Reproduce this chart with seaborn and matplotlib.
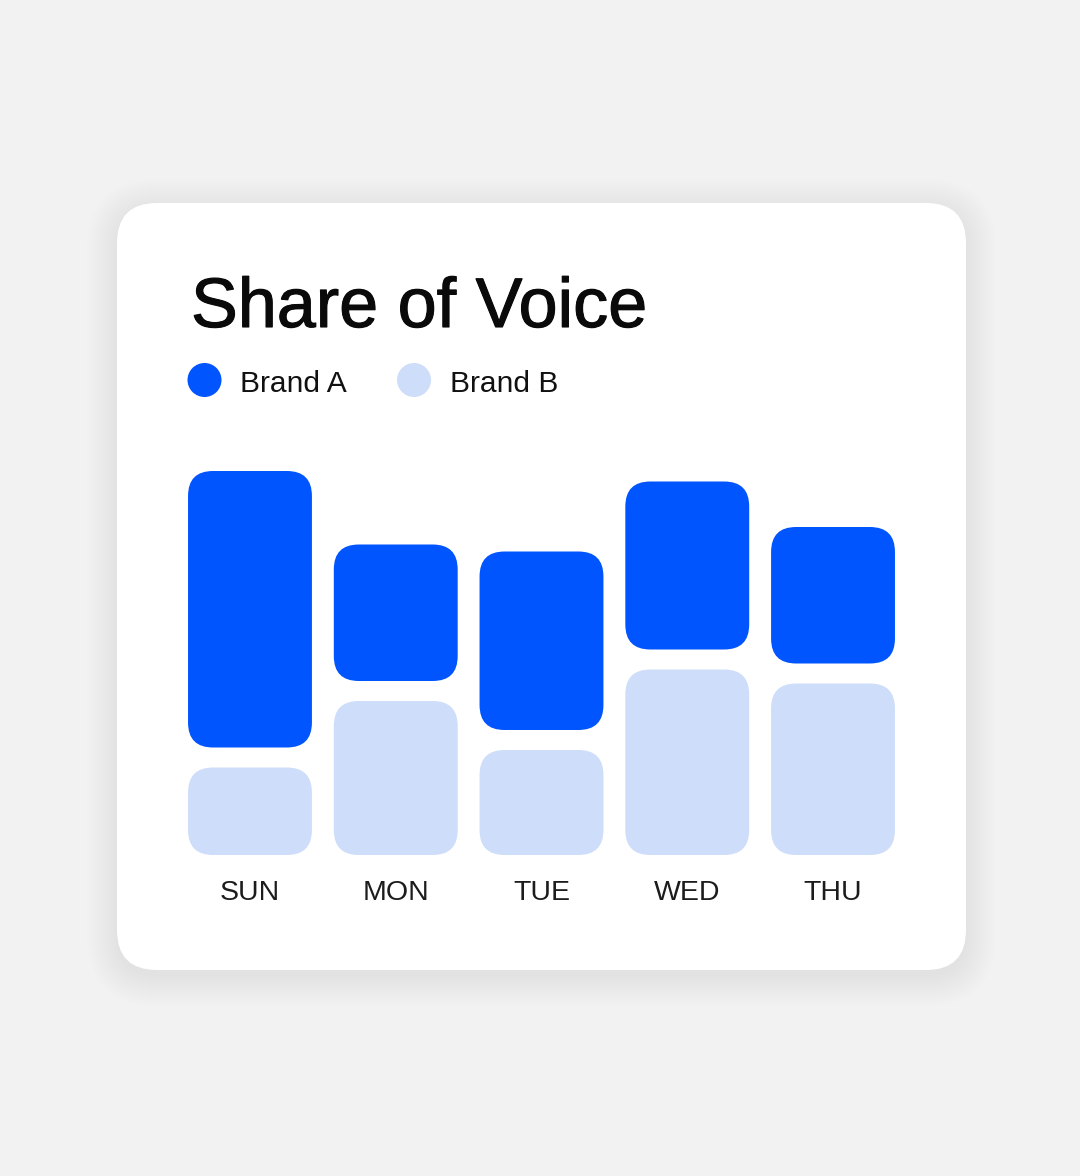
import pandas as pd
import seaborn as sns
import matplotlib.pyplot as plt
import matplotlib.patheffects as pe
from matplotlib.patches import FancyBboxPatch, Circle

# Chart data
days = ['SUN', 'MON', 'TUE', 'WED', 'THU']
brand_a = [79, 39, 51, 48, 39]
brand_b = [25, 44, 30, 53, 49]
series = ['Brand A', 'Brand B']
colors = {'Brand A': '#0055FF', 'Brand B': '#CEDDF9'}

W, H, DPI = 1080, 1176, 100
sns.set_style('white')
plt.rcParams['font.family'] = ['Liberation Sans', 'DejaVu Sans']

fig = plt.figure(figsize=(W / DPI, H / DPI), dpi=DPI, facecolor='#f2f2f2')

# background layer in pixel coordinates (card, title, legend)
bg = fig.add_axes([0, 0, 1, 1])
bg.set_xlim(0, W)
bg.set_ylim(H, 0)
bg.axis('off')

card = (117, 203, 849, 767)
for i in range(16):
    s = i * 2
    bg.add_patch(FancyBboxPatch((card[0] - s, card[1] - s + 6), card[2] + 2 * s, card[3] + 2 * s,
                                boxstyle=f'round,pad=0,rounding_size={40 + s}',
                                fc='black', ec='none', alpha=0.0035))
bg.add_patch(FancyBboxPatch(card[:2], card[2], card[3], boxstyle='round,pad=0,rounding_size=40',
                            fc='white', ec='none'))

title = bg.text(191, 327, 'Share of Voice', fontsize=50.5, color='#0a0a0a', va='baseline', ha='left')
title.set_path_effects([pe.withStroke(linewidth=0.8, foreground='#0a0a0a')])

for name, cx in zip(series, [204.5, 414]):
    bg.add_patch(Circle((cx, 380), 17, fc=colors[name], ec='none'))
    bg.text(cx + 35.5, 392, name, fontsize=21.6, color='#111111', va='baseline', ha='left')

# bars layer
scale = 3.5  # px per value unit
left_px, right_px, base_px, top_px = 177.1, 905.9, 855, 455
ax = fig.add_axes([left_px / W, (H - base_px) / H, (right_px - left_px) / W, (base_px - top_px) / H])
ax.patch.set_alpha(0)

df = pd.DataFrame({'day': days, 'Brand A': brand_a, 'Brand B': brand_b})
sns.barplot(data=df, x='day', y='Brand B', color=colors['Brand B'], saturation=1,
            width=0.85, errorbar=None, ax=ax)
n = len(ax.patches)
sns.barplot(data=df, x='day', y='Brand A', color=colors['Brand A'], saturation=1,
            width=0.85, errorbar=None, ax=ax)

ax.set_xlim(-0.5, len(days) - 0.5)
ax.set_ylim(0, (base_px - top_px) / scale)

# swap the flat bars for rounded ones, Brand A sits on top of Brand B with a gap
px_x = (right_px - left_px) / len(days)
aspect = px_x / scale
radius = 25 / px_x
gap = 20 / scale
bars_b = list(ax.patches[:n])
bars_a = list(ax.patches[n:])
for pb, pa in zip(bars_b, bars_a):
    for p, y0 in ((pb, 0), (pa, pb.get_height() + gap)):
        fb = FancyBboxPatch((p.get_x(), p.get_y() + y0), p.get_width(), p.get_height(),
                            boxstyle=f'round,pad=0,rounding_size={radius}',
                            mutation_aspect=aspect, fc=p.get_facecolor(), ec='none')
        p.remove()
        ax.add_patch(fb)

ax.set_xlabel('')
ax.set_ylabel('')
ax.set_yticks([])
ax.tick_params(axis='x', length=0, pad=18, labelsize=20.5, labelcolor='#1c1c1c')
sns.despine(ax=ax, left=True, bottom=True)

fig.savefig('out.png', dpi=DPI, facecolor=fig.get_facecolor())
